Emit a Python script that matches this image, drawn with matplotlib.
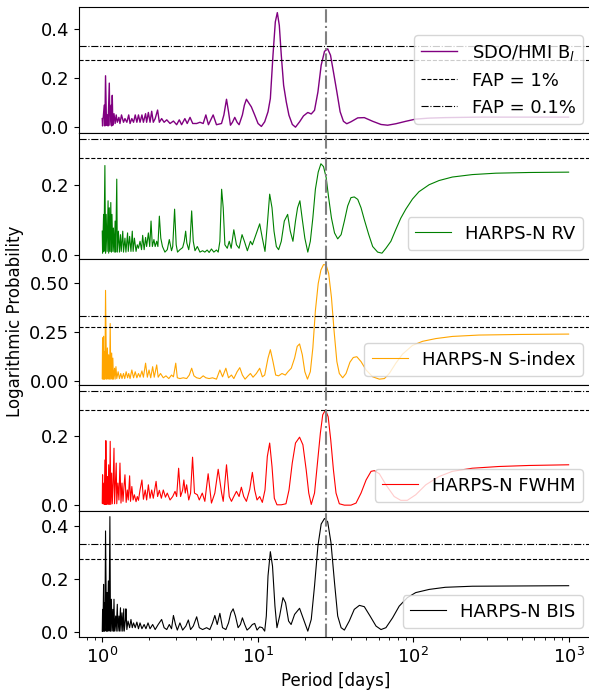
import matplotlib
matplotlib.use("Agg")
import matplotlib.pyplot as plt

# false-alarm levels and rotation period
fap_1 = 0.276
fap_01 = 0.332
p_rot = 27.3

# (period [d], log probability)
sdo = [(1.0, 0.035), (1.005, 0.005), (1.03, 0.09), (1.04, 0.005), (1.05, 0.21), (1.065, 0.008),
       (1.08, 0.05), (1.09, 0.005), (1.11, 0.18), (1.12, 0.008), (1.14, 0.09), (1.15, 0.005),
       (1.16, 0.13), (1.17, 0.008), (1.19, 0.055), (1.21, 0.015), (1.23, 0.05), (1.25, 0.02),
       (1.28, 0.04), (1.30, 0.015), (1.33, 0.05), (1.37, 0.02), (1.40, 0.035), (1.44, 0.02),
       (1.48, 0.05), (1.51, 0.015), (1.55, 0.035), (1.59, 0.02), (1.63, 0.05), (1.67, 0.02),
       (1.71, 0.05), (1.75, 0.02), (1.80, 0.05), (1.84, 0.02), (1.90, 0.055), (1.93, 0.02),
       (1.98, 0.06), (2.03, 0.02), (2.08, 0.065), (2.13, 0.02), (2.19, 0.035), (2.27, 0.07),
       (2.33, 0.02), (2.41, 0.035), (2.50, 0.02), (2.60, 0.03), (2.73, 0.015), (2.87, 0.025),
       (3.01, 0.01), (3.13, 0.03), (3.24, 0.01), (3.40, 0.035), (3.52, 0.015), (3.67, 0.04),
       (3.82, 0.015), (4.05, 0.015), (4.25, 0.02), (4.46, 0.015), (4.64, 0.05), (4.82, 0.01),
       (5.17, 0.05), (5.43, 0.01), (5.85, 0.015), (6.06, 0.05), (6.30, 0.114), (6.49, 0.063),
       (6.68, 0.008), (6.88, 0.02), (7.12, 0.04), (7.37, 0.02), (7.59, 0.01), (7.97, 0.05),
       (8.21, 0.09), (8.46, 0.114), (8.80, 0.097), (9.10, 0.083), (9.56, 0.05), (10.05, 0.015),
       (10.56, 0.003), (11.09, 0.022), (11.65, 0.063), (12.06, 0.117), (12.54, 0.294),
       (12.98, 0.43), (13.37, 0.468), (13.77, 0.416), (14.18, 0.294), (14.68, 0.171),
       (15.27, 0.103), (15.88, 0.049), (16.7, 0.011), (17.5, 0.0), (18.6, 0.022), (19.7, 0.046),
       (21.0, 0.06), (22.1, 0.054), (23.2, 0.069), (24.4, 0.144), (25.6, 0.253), (26.9, 0.31),
       (28.2, 0.32), (29.4, 0.294), (30.7, 0.226), (32.3, 0.144), (33.9, 0.063), (35.6, 0.024),
       (37.4, 0.014), (39.8, 0.022), (44.0, 0.038), (48.5, 0.039), (54.9, 0.024), (62.1, 0.011),
       (68.5, 0.008), (77.4, 0.014), (89.7, 0.024), (103.8, 0.033), (126.7, 0.037), (161, 0.039),
       (265, 0.041), (434, 0.041), (1000, 0.041)]

rv = [(1.0, 0.067), (1.005, 0.004), (1.02, 0.115), (1.025, 0.009), (1.04, 0.255), (1.05, 0.004),
      (1.06, 0.115), (1.075, 0.009), (1.09, 0.154), (1.10, 0.004), (1.11, 0.134), (1.12, 0.009),
      (1.135, 0.149), (1.145, 0.007), (1.155, 0.115), (1.17, 0.009), (1.18, 0.076), (1.195, 0.007),
      (1.21, 0.096), (1.22, 0.007), (1.24, 0.216), (1.25, 0.007), (1.27, 0.067), (1.29, 0.007),
      (1.31, 0.057), (1.325, 0.009), (1.355, 0.067), (1.37, 0.007), (1.40, 0.047), (1.42, 0.007),
      (1.455, 0.062), (1.47, 0.009), (1.50, 0.052), (1.53, 0.009), (1.56, 0.067), (1.58, 0.009),
      (1.61, 0.047), (1.65, 0.009), (1.68, 0.028), (1.71, 0.018), (1.75, 0.038), (1.79, 0.014),
      (1.82, 0.055), (1.86, 0.014), (1.90, 0.049), (1.93, 0.023), (1.98, 0.062), (2.02, 0.023),
      (2.06, 0.096), (2.10, 0.023), (2.15, 0.043), (2.19, 0.023), (2.24, 0.038), (2.28, 0.023),
      (2.33, 0.11), (2.38, 0.047), (2.44, 0.023), (2.53, 0.007), (2.62, 0.014), (2.70, 0.043),
      (2.79, 0.011), (2.84, 0.023), (2.92, 0.13), (2.99, 0.028), (3.05, 0.007), (3.16, 0.014),
      (3.29, 0.02), (3.37, 0.038), (3.44, 0.067), (3.50, 0.033), (3.60, 0.014), (3.67, 0.038),
      (3.76, 0.125), (3.85, 0.038), (3.95, 0.011), (4.09, 0.023), (4.25, 0.007), (4.42, 0.011),
      (4.57, 0.007), (4.73, 0.013), (4.87, 0.006), (5.04, 0.016), (5.22, 0.007), (5.43, 0.013),
      (5.57, 0.007), (5.71, 0.038), (5.86, 0.187), (6.00, 0.134), (6.15, 0.028), (6.37, 0.018),
      (6.56, 0.038), (6.75, 0.018), (7.02, 0.071), (7.30, 0.028), (7.59, 0.018), (7.93, 0.057),
      (8.21, 0.038), (8.58, 0.011), (8.98, 0.038), (9.24, 0.028), (9.56, 0.047), (9.90, 0.067),
      (10.30, 0.088), (10.71, 0.047), (11.14, 0.009), (11.53, 0.086), (11.94, 0.173),
      (12.36, 0.134), (12.73, 0.067), (13.18, 0.023), (13.63, 0.014), (14.18, 0.038),
      (14.83, 0.096), (15.58, 0.115), (16.20, 0.067), (16.85, 0.038), (17.5, 0.096),
      (18.05, 0.134), (18.68, 0.154), (19.3, 0.105), (20.1, 0.047), (21.0, 0.007), (21.8, 0.038),
      (22.63, 0.105), (23.5, 0.187), (24.5, 0.236), (25.5, 0.26), (26.5, 0.252), (27.55, 0.221),
      (28.6, 0.163), (29.8, 0.105), (31.2, 0.062), (32.7, 0.045), (34.4, 0.057), (36.1, 0.096),
      (37.9, 0.139), (39.8, 0.163), (41.8, 0.165), (44.0, 0.158), (46.2, 0.134), (48.5, 0.10),
      (51.8, 0.057), (54.9, 0.023), (59.1, 0.007), (63.0, 0.004), (66.8, 0.018), (71.9, 0.038),
      (77.4, 0.072), (83.2, 0.104), (89.7, 0.130), (99, 0.159), (109, 0.180), (126.7, 0.200),
      (146.8, 0.212), (178.7, 0.222), (240, 0.229), (340, 0.233), (555, 0.235), (1000, 0.236)]

sindex = [(1.0, 0.01), (1.005, 0.219), (1.01, 0.007), (1.02, 0.227), (1.025, 0.007), (1.035, 0.149),
          (1.04, 0.007), (1.05, 0.462), (1.065, 0.007), (1.08, 0.167), (1.09, 0.007), (1.10, 0.132),
          (1.115, 0.007), (1.125, 0.292), (1.135, 0.007), (1.15, 0.141), (1.16, 0.007),
          (1.17, 0.115), (1.18, 0.007), (1.20, 0.063), (1.21, 0.007), (1.225, 0.071), (1.24, 0.01),
          (1.265, 0.045), (1.29, 0.01), (1.315, 0.036), (1.34, 0.01), (1.37, 0.036), (1.395, 0.01),
          (1.425, 0.045), (1.455, 0.014), (1.48, 0.036), (1.51, 0.01), (1.55, 0.054), (1.59, 0.014),
          (1.63, 0.045), (1.67, 0.014), (1.71, 0.036), (1.75, 0.017), (1.80, 0.049), (1.84, 0.017),
          (1.90, 0.089), (1.95, 0.017), (2.00, 0.054), (2.05, 0.014), (2.11, 0.071), (2.16, 0.017),
          (2.24, 0.08), (2.29, 0.017), (2.37, 0.036), (2.47, 0.014), (2.57, 0.024), (2.68, 0.01),
          (2.79, 0.028), (2.87, 0.019), (2.97, 0.089), (3.04, 0.014), (3.16, 0.01), (3.32, 0.014),
          (3.49, 0.01), (3.63, 0.028), (3.76, 0.063), (3.89, 0.024), (4.05, 0.014), (4.25, 0.01),
          (4.46, 0.024), (4.64, 0.014), (4.87, 0.01), (5.12, 0.014), (5.43, 0.007), (5.71, 0.054),
          (5.94, 0.019), (6.24, 0.063), (6.49, 0.014), (6.78, 0.028), (7.02, 0.01), (7.37, 0.045),
          (7.67, 0.066), (7.97, 0.028), (8.29, 0.007), (8.67, 0.024), (8.98, 0.036), (9.33, 0.017),
          (9.80, 0.036), (10.30, 0.063), (10.71, 0.019), (11.09, 0.028), (11.65, 0.115),
          (12.06, 0.158), (12.54, 0.097), (13.05, 0.028), (13.63, 0.024), (14.32, 0.036),
          (15.05, 0.028), (15.65, 0.045), (16.44, 0.063), (17.27, 0.115), (17.95, 0.175),
          (18.59, 0.1875), (19.36, 0.132), (20.1, 0.045), (20.9, 0.007), (21.8, 0.045),
          (22.63, 0.167), (23.5, 0.358), (24.5, 0.497), (25.5, 0.566), (26.5, 0.594), (27.55, 0.592),
          (28.6, 0.549), (29.8, 0.427), (31.0, 0.253), (32.3, 0.097), (33.5, 0.036), (35.2, 0.014),
          (37.0, 0.036), (39.2, 0.094), (41.2, 0.118), (43.4, 0.122), (46.2, 0.097), (49.8, 0.054),
          (54.9, 0.019), (60.6, 0.007), (65.3, 0.01), (70.2, 0.036), (77.4, 0.089), (85.4, 0.135),
          (99, 0.18), (115, 0.201), (140, 0.215), (179, 0.226), (265, 0.233), (478, 0.236),
          (1000, 0.238)]

fwhm = [(1.0, 0.006), (1.005, 0.088), (1.01, 0.004), (1.025, 0.064), (1.03, 0.002), (1.04, 0.131),
        (1.05, 0.002), (1.055, 0.187), (1.065, 0.002), (1.08, 0.083), (1.09, 0.002), (1.10, 0.117),
        (1.115, 0.002), (1.125, 0.185), (1.135, 0.002), (1.15, 0.093), (1.16, 0.004), (1.175, 0.064),
        (1.19, 0.165), (1.20, 0.004), (1.22, 0.083), (1.23, 0.122), (1.24, 0.004), (1.26, 0.064),
        (1.28, 0.015), (1.30, 0.122), (1.32, 0.006), (1.34, 0.064), (1.36, 0.011), (1.38, 0.054),
        (1.40, 0.088), (1.425, 0.008), (1.45, 0.044), (1.47, 0.015), (1.50, 0.085), (1.52, 0.011),
        (1.55, 0.054), (1.58, 0.015), (1.61, 0.03), (1.65, 0.01), (1.68, 0.025), (1.71, 0.014),
        (1.75, 0.044), (1.80, 0.073), (1.84, 0.017), (1.89, 0.044), (1.93, 0.015), (1.98, 0.059),
        (2.03, 0.02), (2.08, 0.044), (2.13, 0.02), (2.22, 0.069), (2.27, 0.025), (2.33, 0.043),
        (2.40, 0.02), (2.47, 0.044), (2.55, 0.023), (2.62, 0.035), (2.73, 0.015), (2.84, 0.025),
        (2.94, 0.04), (3.01, 0.025), (3.10, 0.107), (3.19, 0.025), (3.29, 0.044), (3.35, 0.073),
        (3.42, 0.035), (3.49, 0.059), (3.60, 0.015), (3.70, 0.035), (3.81, 0.139), (3.92, 0.035),
        (4.09, 0.03), (4.21, 0.015), (4.40, 0.035), (4.57, 0.011), (4.80, 0.091), (5.04, 0.006),
        (5.30, 0.035), (5.57, 0.104), (5.86, 0.035), (6.00, 0.011), (6.30, 0.117), (6.56, 0.025),
        (6.78, 0.011), (7.02, 0.025), (7.30, 0.04), (7.59, 0.025), (7.85, 0.052), (8.13, 0.025),
        (8.46, 0.011), (8.89, 0.046), (9.24, 0.095), (9.56, 0.044), (9.90, 0.015), (10.30, 0.025),
        (10.71, 0.008), (11.14, 0.044), (11.53, 0.141), (11.94, 0.18), (12.36, 0.112),
        (12.79, 0.02), (13.3, 0.001), (14.18, 0.001), (15.2, 0.004), (15.9, 0.044), (16.68, 0.122),
        (17.5, 0.18), (18.59, 0.197), (19.53, 0.175), (20.51, 0.102), (21.3, 0.035), (22.1, 0.002),
        (23.2, 0.035), (24.1, 0.112), (25.3, 0.209), (26.2, 0.262), (27.3, 0.276), (28.4, 0.256),
        (29.5, 0.189), (30.7, 0.102), (31.9, 0.035), (33.5, 0.004), (36.1, 0.0), (39.8, 0.0),
        (42.9, 0.006), (46.2, 0.035), (49.8, 0.073), (53.6, 0.098), (56.3, 0.10), (60.6, 0.091),
        (66.8, 0.059), (75.5, 0.025), (83.2, 0.014), (91.7, 0.014), (103.8, 0.03), (120.6, 0.059),
        (146.8, 0.083), (178.7, 0.098), (240, 0.107), (355, 0.112), (555, 0.115), (1000, 0.117)]

bis = [(1.0, 0.005), (1.005, 0.087), (1.01, 0.005), (1.02, 0.181), (1.025, 0.005), (1.035, 0.112),
       (1.04, 0.005), (1.05, 0.382), (1.065, 0.005), (1.075, 0.15), (1.08, 0.005), (1.095, 0.194),
       (1.105, 0.005), (1.12, 0.436), (1.13, 0.005), (1.145, 0.125), (1.155, 0.005), (1.17, 0.087),
       (1.18, 0.005), (1.19, 0.125), (1.20, 0.005), (1.22, 0.062), (1.23, 0.005), (1.25, 0.106),
       (1.26, 0.005), (1.28, 0.062), (1.29, 0.005), (1.31, 0.093), (1.32, 0.005), (1.34, 0.074),
       (1.355, 0.005), (1.375, 0.089), (1.385, 0.005), (1.41, 0.049), (1.42, 0.089), (1.44, 0.011),
       (1.465, 0.043), (1.50, 0.018), (1.53, 0.049), (1.56, 0.018), (1.59, 0.036), (1.63, 0.018),
       (1.67, 0.039), (1.71, 0.014), (1.75, 0.036), (1.80, 0.014), (1.86, 0.03), (1.91, 0.014),
       (1.97, 0.036), (2.03, 0.014), (2.11, 0.03), (2.19, 0.011), (2.29, 0.03), (2.41, 0.049),
       (2.50, 0.018), (2.60, 0.011), (2.70, 0.03), (2.79, 0.014), (2.87, 0.064), (2.96, 0.03),
       (3.04, 0.009), (3.16, 0.036), (3.29, 0.009), (3.45, 0.024), (3.58, 0.047), (3.70, 0.011),
       (3.85, 0.024), (4.05, 0.059), (4.21, 0.018), (4.42, 0.011), (4.69, 0.018), (4.92, 0.011),
       (5.12, 0.036), (5.30, 0.064), (5.49, 0.03), (5.71, 0.072), (5.94, 0.018), (6.24, 0.011),
       (6.49, 0.036), (6.72, 0.074), (6.95, 0.089), (7.19, 0.062), (7.48, 0.018), (7.74, 0.03),
       (7.97, 0.055), (8.25, 0.03), (8.54, 0.009), (8.89, 0.018), (9.24, 0.03), (9.56, 0.034),
       (9.90, 0.009), (10.30, 0.021), (10.71, 0.018), (11.09, 0.005), (11.36, 0.062),
       (11.65, 0.213), (12.06, 0.304), (12.45, 0.25), (12.91, 0.099), (13.3, 0.018), (13.84, 0.062),
       (14.54, 0.131), (15.1, 0.112), (15.8, 0.043), (16.4, 0.03), (17.27, 0.068), (18.59, 0.091),
       (19.72, 0.049), (21.0, 0.005), (22.1, 0.049), (23.2, 0.175), (24.4, 0.326), (25.6, 0.408),
       (26.9, 0.429), (28.2, 0.416), (29.6, 0.338), (31.2, 0.187), (32.7, 0.062), (34.4, 0.018),
       (36.1, 0.009), (38.8, 0.043), (41.8, 0.087), (45.1, 0.102), (48.5, 0.097), (52.8, 0.062),
       (57.7, 0.024), (62.1, 0.011), (66.8, 0.018), (73.7, 0.055), (81.3, 0.099), (91.7, 0.131),
       (103.8, 0.15), (126.7, 0.162), (161, 0.17), (240, 0.174), (434, 0.175), (1000, 0.176)]

series = [
    (sdo, "purple", r"SDO/HMI B$_l$", 1.0),
    (rv, "green", "HARPS-N RV", 0.8),
    (sindex, "orange", "HARPS-N S-index", 0.8),
    (fwhm, "red", "HARPS-N FWHM", 0.8),
    (bis, "black", "HARPS-N BIS", 0.8),
]

fig, axes = plt.subplots(5, 1, sharex=True, figsize=(5.89, 6.90), dpi=100)
fig.subplots_adjust(left=0.134, right=1.005, top=0.99, bottom=0.077, hspace=0)

for i, (ax, (data, col, lab, lw)) in enumerate(zip(axes, series)):
    per, pw = zip(*data)
    ax.plot(per, pw, color=col, lw=lw, label=lab)
    ax.axhline(fap_1, color="k", ls="--", lw=0.8, label="FAP = 1%" if i == 0 else "_nolegend_")
    ax.axhline(fap_01, color="k", ls="-.", lw=0.8, label="FAP = 0.1%" if i == 0 else "_nolegend_")
    ax.axvline(p_rot, color="grey", ls="-.", lw=1.5)
    ax.set_xscale("log")
    ax.tick_params(labelsize=13)
    ax.legend(loc="lower right", fontsize=13)

axes[-1].set_xlabel("Period [days]", fontsize=12)
fig.text(0.026, 0.534, "Logarithmic Probability", rotation=90, ha="center", va="center", fontsize=12)

fig.savefig("out.png", dpi=100)
